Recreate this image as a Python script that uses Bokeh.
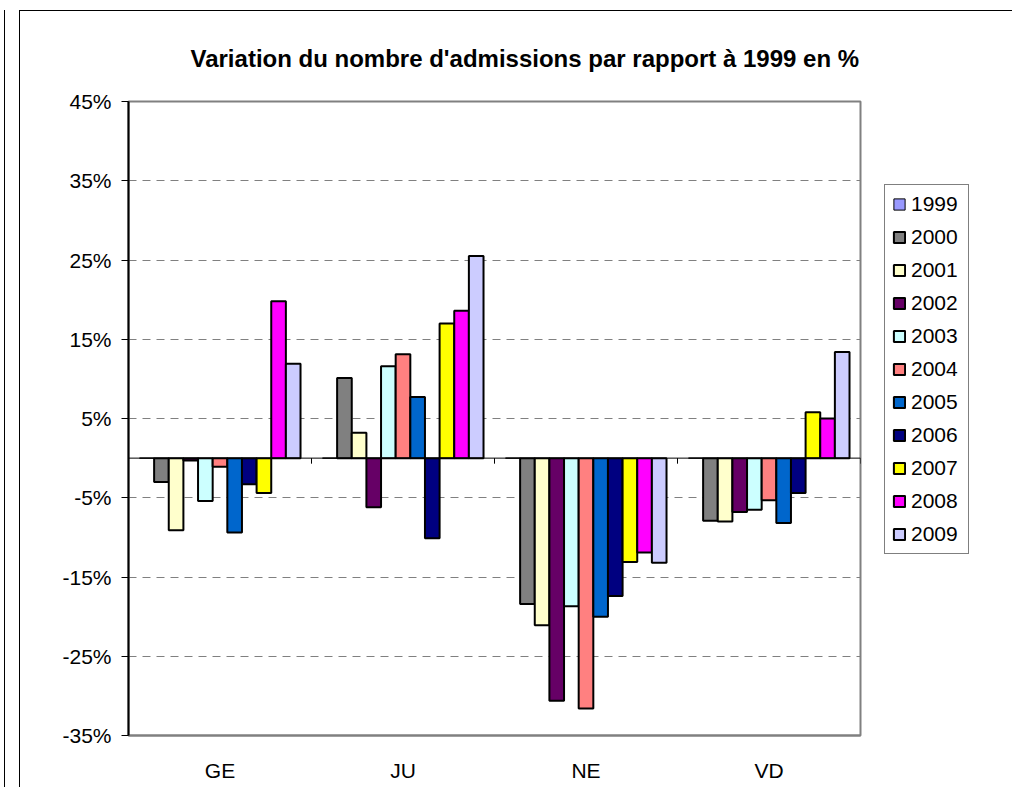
from bokeh.plotting import figure
from bokeh.models import (ColumnDataSource, FactorRange, Range1d, FixedTicker, Span,
                          Legend, LegendItem, CDSView, BooleanFilter)
from bokeh.transform import dodge
from bokeh.embed import file_html
from bokeh.resources import INLINE

# ---------------- data ----------------
groups = ["GE", "JU", "NE", "VD"]
years = ["1999", "2000", "2001", "2002", "2003", "2004", "2005", "2006", "2007", "2008", "2009"]
v1999 = [0.0, 0.0, 0.0, 0.0]
v2000 = [-3.0, 10.1, -18.4, -7.9]
v2001 = [-9.1, 3.2, -21.1, -8.0]
v2002 = [-0.3, -6.2, -30.6, -6.8]
v2003 = [-5.4, 11.6, -18.7, -6.5]
v2004 = [-1.1, 13.1, -31.6, -5.3]
v2005 = [-9.4, 7.7, -20.0, -8.2]
v2006 = [-3.3, -10.1, -17.4, -4.4]
v2007 = [-4.4, 17.0, -13.1, 5.8]
v2008 = [19.8, 18.6, -11.9, 5.0]
v2009 = [11.9, 25.5, -13.2, 13.4]
series = [v1999, v2000, v2001, v2002, v2003, v2004, v2005, v2006, v2007, v2008, v2009]
colors = ["#9999FF", "#808080", "#FFFFCC", "#660066", "#CCFFFF", "#FF8080",
          "#0066CC", "#000080", "#FFFF00", "#FF00FF", "#CCCCFF"]
ytick_vals = [-35, -25, -15, -5, 5, 15, 25, 35, 45]
ytick_labels = ["-35%", "-25%", "-15%", "-5%", "5%", "15%", "25%", "35%", "45%"]
title_text = "Variation du nombre d'admissions par rapport à 1999 en %"

FONT = "Liberation Sans"

data = {"group": groups}
for y, s in zip(years, series):
    data[y] = s
source = ColumnDataSource(data)

p = figure(x_range=FactorRange(*groups), y_range=Range1d(ytick_vals[0], ytick_vals[-1]),
           frame_width=732, frame_height=634,
           min_border_left=108, min_border_right=150, min_border_top=90, min_border_bottom=52,
           output_backend="svg", toolbar_location=None)
p.margin = (10, 0, 0, 19)
p.styles = {"border-left": "1px solid #000000", "border-top": "1px solid #000000",
            "box-shadow": "-14px 0 0 0 #ffffff, -15px 0 0 0 #000000"}
p.background_fill_color = "white"
p.border_fill_color = "white"
p.outline_line_color = "#808080"
p.outline_line_width = 2

# title
p.title.text = title_text
p.title.align = "left"
p.title.offset = 62
if "standoff" in p.title.properties():
    p.title.standoff = 60
p.title.text_font = FONT
p.title.text_font_style = "bold"
p.title.text_font_size = "24px"
p.title.text_color = "black"

# grid
p.xgrid.grid_line_color = None
p.ygrid.ticker = FixedTicker(ticks=ytick_vals)
p.ygrid.grid_line_color = "#808080"
p.ygrid.grid_line_dash = "8 6"
p.ygrid.grid_line_width = 1

# y axis
p.yaxis.ticker = FixedTicker(ticks=ytick_vals)
p.yaxis.major_label_overrides = {v: l for v, l in zip(ytick_vals, ytick_labels)}
p.yaxis.axis_line_color = "black"
p.yaxis.axis_line_width = 2
p.yaxis.major_tick_line_color = "black"
p.yaxis.major_tick_out = 7
p.yaxis.major_tick_in = 0
p.yaxis.minor_tick_line_color = None
p.yaxis.major_label_text_font = FONT
p.yaxis.major_label_text_font_size = "21px"
p.yaxis.major_label_text_color = "black"
p.yaxis.major_label_standoff = 10

# x axis
p.xaxis.axis_line_color = "#808080"
p.xaxis.axis_line_width = 2
p.xaxis.major_tick_line_color = None
p.xaxis.major_label_text_font = FONT
p.xaxis.major_label_text_font_size = "21px"
p.xaxis.major_label_text_color = "black"
p.xaxis.major_label_standoff = 17

# zero line and category-boundary ticks
p.add_layout(Span(location=0, dimension="width", line_color="black", line_width=1))
bnd = list(range(len(groups) + 1))
p.segment(x0=bnd, y0=[0] * len(bnd), x1=bnd, y1=[-0.7] * len(bnd), line_color="black", line_width=1)

# bars
n = len(years)
bw = 1.0 / (n + 1.5)
items = []
for i, (y, c) in enumerate(zip(years, colors)):
    off = (i - (n - 1) / 2) * bw
    allzero = all(v == 0 for v in source.data[y])
    if allzero:
        # zero-height bars: outline coincides with the zero line
        r = p.vbar(x=dodge("group", off, range=p.x_range), top=y, bottom=0, width=bw,
                   source=source, fill_color=c, line_color="black", line_width=1)
    else:
        view = CDSView(filter=BooleanFilter([v != 0 for v in source.data[y]]))
        r = p.vbar(x=dodge("group", off, range=p.x_range), top=y, bottom=0, width=bw,
                   source=source, view=view, fill_color=c, line_color="black", line_width=2)
    items.append(LegendItem(label=y, renderers=[r]))

legend = Legend(items=items, location=(24, 181), border_line_color="black", border_line_width=1,
                label_text_font=FONT, label_text_font_size="21px", label_text_color="black",
                glyph_width=14, glyph_height=14, label_standoff=5, label_width=50, spacing=9,
                padding=7, margin=0, background_fill_color="white", background_fill_alpha=1)
p.add_layout(legend, "right")

open("out.html", "w").write(file_html(p, INLINE))
